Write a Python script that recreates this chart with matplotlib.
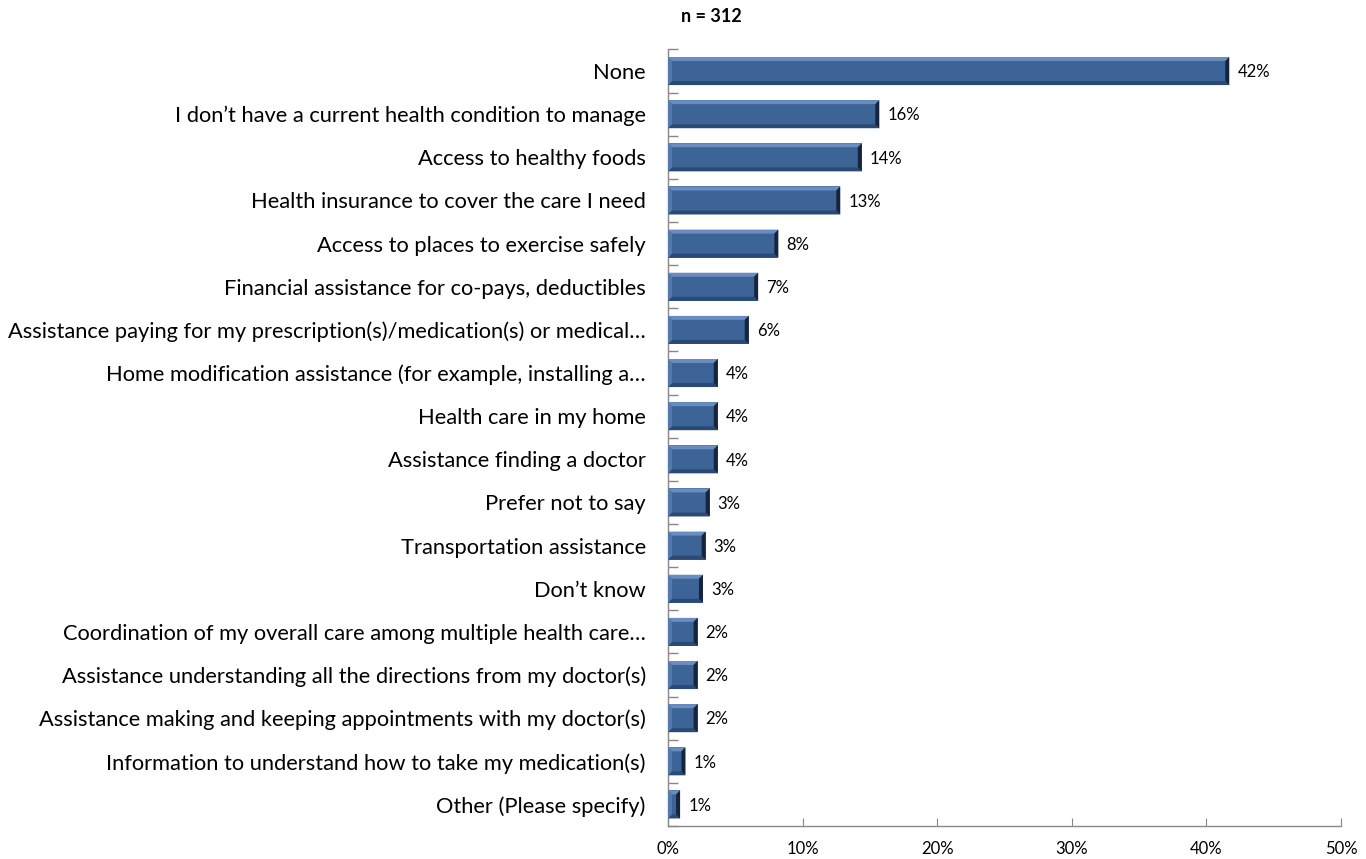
import matplotlib
matplotlib.use("Agg")
import matplotlib.pyplot as plt
from matplotlib.patches import Polygon
from matplotlib.ticker import FuncFormatter, MultipleLocator

categories = [
    "None",
    "I don\u2019t have a current health condition to manage",
    "Access to healthy foods",
    "Health insurance to cover the care I need",
    "Access to places to exercise safely",
    "Financial assistance for co-pays, deductibles",
    "Assistance paying for my prescription(s)/medication(s) or medical\u2026",
    "Home modification assistance (for example, installing a\u2026",
    "Health care in my home",
    "Assistance finding a doctor",
    "Prefer not to say",
    "Transportation assistance",
    "Don\u2019t know",
    "Coordination of my overall care among multiple health care\u2026",
    "Assistance understanding all the directions from my doctor(s)",
    "Assistance making and keeping appointments with my doctor(s)",
    "Information to understand how to take my medication(s)",
    "Other (Please specify)",
]
values = [41.7, 15.7, 14.4, 12.8, 8.2, 6.7, 6.0, 3.7, 3.7, 3.7,
          3.1, 2.8, 2.6, 2.2, 2.2, 2.2, 1.3, 0.9]
sample_label = "n = 312"

FONT = ["Lato", "DejaVu Sans"]
face = "#3d6497"
light = "#6a8dbf"
dark = "#2a4a75"
darkest = "#16253d"

fig = plt.figure(figsize=(13.66, 8.59), dpi=100)
ax = fig.add_axes([0.489, 0.0384, 0.4927, 0.9040])

y = list(range(len(categories)))
bar_h = 0.65
bars = ax.barh(y, values, height=bar_h, color=face, edgecolor="none", zorder=2)

ax.set_xlim(0, 50)
ax.set_ylim(len(categories) - 0.5, -0.5)

# bevel edges, sized in pixels and converted to data units
fig.canvas.draw()
p0 = ax.transData.transform((0, 0))
p1 = ax.transData.transform((1, 1))
px_x = 1.0 / abs(p1[0] - p0[0])
px_y = 1.0 / abs(p1[1] - p0[1])
bev = 4.0
for rect in bars:
    x0, yb = rect.get_x(), rect.get_y()
    w, h = rect.get_width(), rect.get_height()
    x1, yt = x0 + w, yb + h  # yb is top on screen (inverted axis)
    bx = min(bev * px_x, w / 2)
    by = bev * px_y
    top = Polygon([(x0, yb), (x1, yb), (x1 - bx, yb + by), (x0 + bx, yb + by)],
                  closed=True, color=light, lw=0, zorder=3)
    bottom = Polygon([(x0, yt), (x1, yt), (x1 - bx, yt - by), (x0 + bx, yt - by)],
                     closed=True, color=dark, lw=0, zorder=3)
    left = Polygon([(x0, yb), (x0 + bx, yb + by), (x0 + bx, yt - by), (x0, yt)],
                   closed=True, color="#5579ab", lw=0, zorder=3)
    right = Polygon([(x1, yb), (x1 - bx, yb + by), (x1 - bx, yt - by), (x1, yt)],
                    closed=True, color=darkest, lw=0, zorder=3)
    for p in (top, bottom, left, right):
        ax.add_patch(p)

for yi, v in zip(y, values):
    ax.text(v + 0.6, yi + 0.03, f"{round(v)}%", va="center", ha="left",
            fontsize=12, family=FONT, color="#000000")

ax.set_yticks(y)
ax.set_yticklabels(categories, fontsize=15.75, family=FONT)
ax.tick_params(axis="y", length=0, pad=16)
ax.set_yticks([i + 0.5 for i in range(-1, len(categories))], minor=True)
ax.tick_params(axis="y", which="minor", direction="in", length=7,
               color="#888888", width=1)

ax.xaxis.set_major_locator(MultipleLocator(10))
ax.xaxis.set_major_formatter(FuncFormatter(lambda v, _: f"{int(v)}%"))
ax.tick_params(axis="x", direction="in", length=6, color="#888888",
               labelsize=12, pad=11)
for lbl in ax.get_xticklabels():
    lbl.set_family(FONT)

for s in ("top", "right"):
    ax.spines[s].set_visible(False)
for s in ("left", "bottom"):
    ax.spines[s].set_color("#888888")
    ax.spines[s].set_linewidth(1)

fig.text(711 / 1366, 1 - 17 / 859, sample_label, ha="center", va="center",
         fontsize=13, fontweight="bold", family=FONT)

fig.savefig("out.png", dpi=100, facecolor="white")
